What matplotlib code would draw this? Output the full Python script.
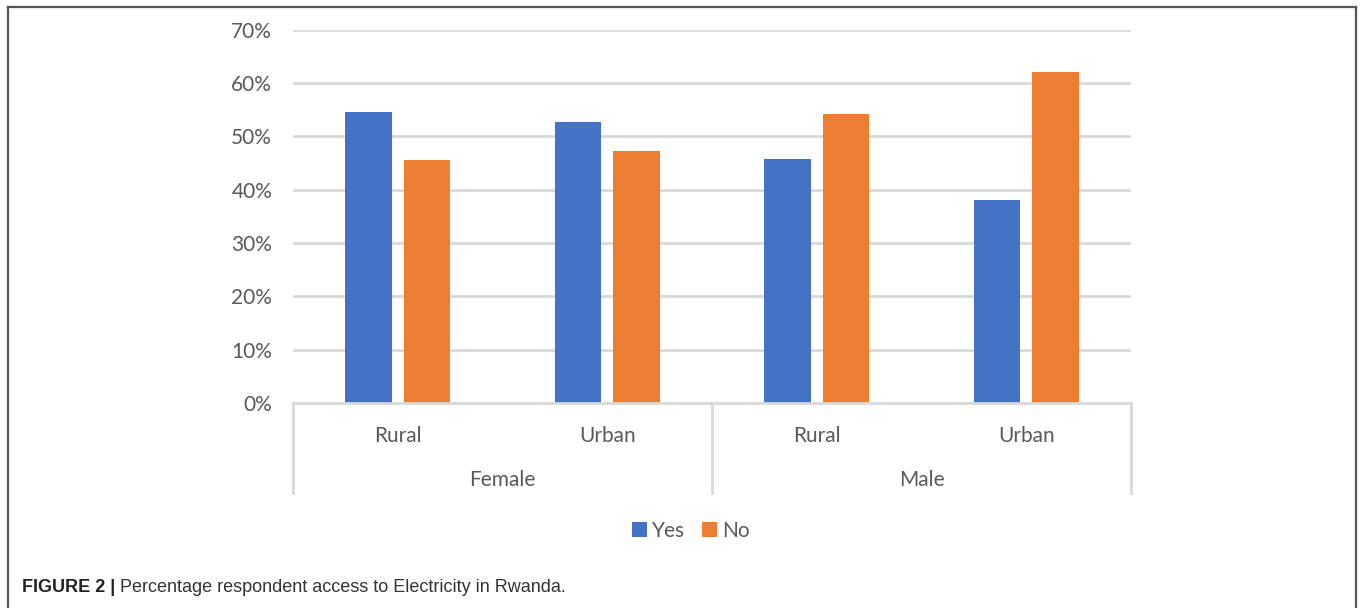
import matplotlib
matplotlib.use("Agg")
import matplotlib.pyplot as plt
from matplotlib.patches import Patch
from matplotlib.lines import Line2D
import matplotlib.transforms as mtransforms
import numpy as np

# survey shares (fraction of respondents)
genders = ["Female", "Male"]
locations = ["Rural", "Urban", "Rural", "Urban"]
yes_vals = [0.545, 0.527, 0.458, 0.380]
no_vals = [0.455, 0.473, 0.542, 0.620]
series_names = ["Yes", "No"]
yticks = [0.0, 0.1, 0.2, 0.3, 0.4, 0.5, 0.6, 0.7]

BLUE = "#4472C4"
ORANGE = "#ED7D31"
TXT = "#595959"
GRID = "#D9D9D9"
FONT = "Lato"
FS = 15

fig = plt.figure(figsize=(13.6, 6.08), dpi=100)
fig.patch.set_facecolor("white")
ax = fig.add_axes([293 / 1360, 1 - 403 / 608, (1131 - 293) / 1360, (403 - 29.5) / 608])

x = np.arange(len(locations))
w = 0.221
off = w / 2 + 0.029
ax.bar(x - off, yes_vals, width=w, color=BLUE, zorder=3)
ax.bar(x + off, no_vals, width=w, color=ORANGE, zorder=3)

ax.set_xlim(-0.5, len(locations) - 0.5)
ax.set_ylim(0, 0.7)
ax.set_yticks(yticks)
ax.set_yticklabels([f"{int(round(t * 100))}%" for t in yticks],
                   fontsize=FS, color=TXT, family=FONT)
ax.tick_params(axis="y", length=0, pad=15)
ax.set_xticks([])
ax.yaxis.grid(True, color=GRID, linewidth=2)
ax.set_axisbelow(True)
for side in ["top", "right", "left"]:
    ax.spines[side].set_visible(False)
ax.spines["bottom"].set_color(GRID)
ax.spines["bottom"].set_linewidth(2)
ax.spines["bottom"].set_zorder(4)

# two-level category axis
trans = mtransforms.blended_transform_factory(ax.transData, ax.transAxes)
for xi, lab in zip(x, locations):
    ax.text(xi, -0.088, lab, transform=trans, ha="center", va="center",
            fontsize=FS, color=TXT, family=FONT)
for gi, g in enumerate(genders):
    ax.text(gi * 2 + 0.5, -0.207, g, transform=trans, ha="center", va="center",
            fontsize=FS, color=TXT, family=FONT)
for xs in [-0.5, 1.5, 3.5]:
    ax.add_line(Line2D([xs, xs], [0, -0.241], transform=trans, color=GRID,
                       linewidth=2, clip_on=False))

handles = [Patch(facecolor=BLUE, label=series_names[0]),
           Patch(facecolor=ORANGE, label=series_names[1])]
fig.legend(handles=handles, loc="center", bbox_to_anchor=(0.508, 1 - 531 / 608),
           ncol=2, frameon=False, handlelength=0.7, handleheight=0.7,
           handletextpad=0.25, columnspacing=0.8,
           prop={"family": FONT, "size": FS}, labelcolor=TXT)

# frame around the figure panel
for xs, ys in [([7.5, 7.5], [-10, 6.5]), ([7.5, 1356], [6.5, 6.5]), ([1356, 1356], [6.5, -10])]:
    fig.add_artist(Line2D([v / 1360 for v in xs], [1 - v / 608 if v >= 0 else -0.02 for v in ys],
                          color="#555555", linewidth=1.6))

cap_y = 1 - 587 / 608
t1 = fig.text(22 / 1360, cap_y, "FIGURE 2 |", fontsize=13, fontweight="bold",
              color="#222222", family="Liberation Sans", va="center")
fig.canvas.draw()
bb = t1.get_window_extent()
fig.text((bb.x1 + 5) / 1360, cap_y, "Percentage respondent access to Electricity in Rwanda.",
         fontsize=13, color="#333333", family="Liberation Sans", va="center")

fig.savefig("out.png", dpi=100, facecolor="white")
